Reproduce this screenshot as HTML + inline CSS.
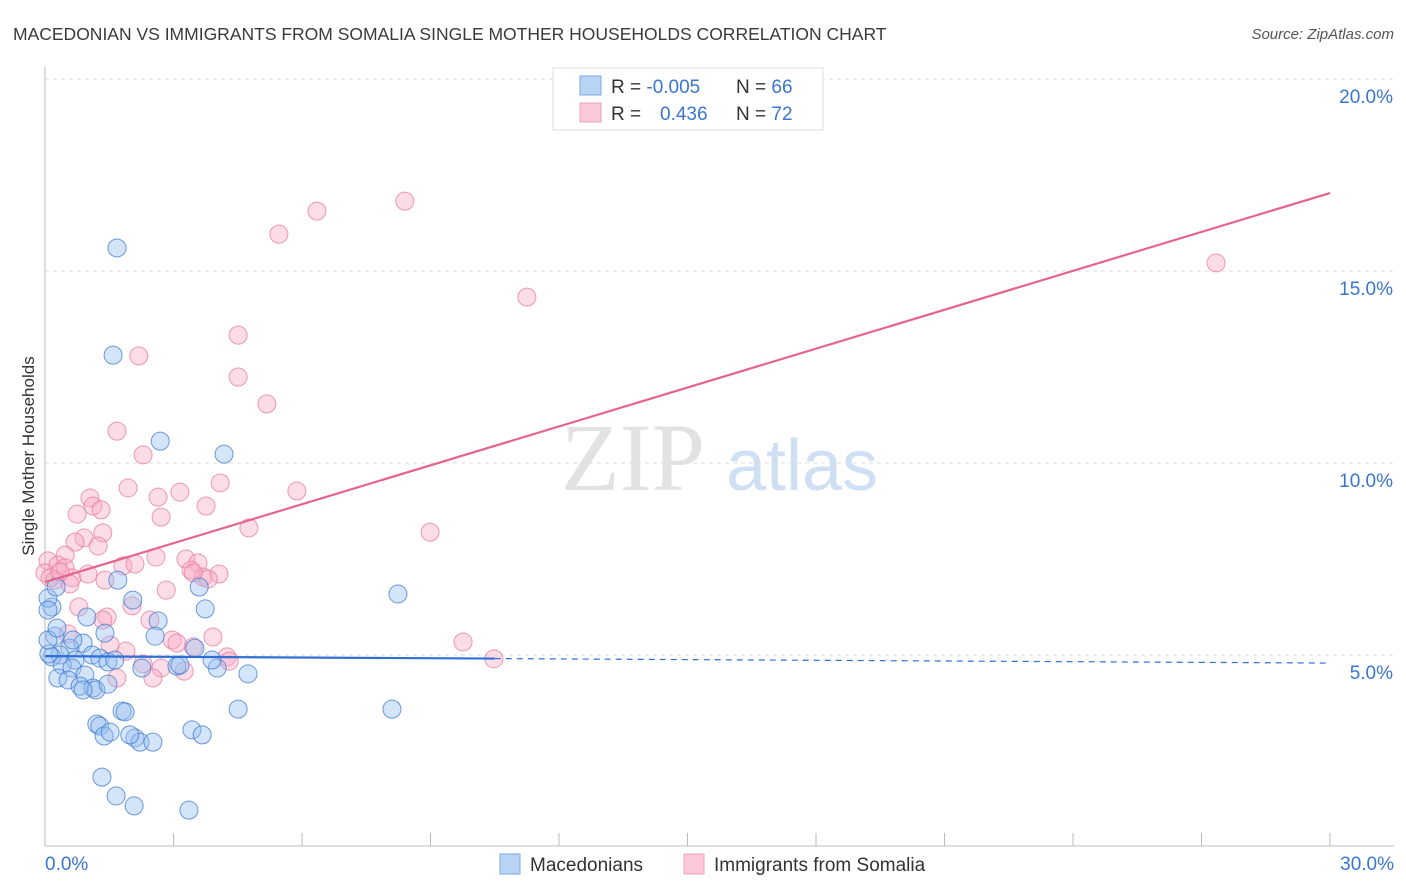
<!DOCTYPE html>
<html><head><meta charset="utf-8"><style>
body{margin:0;background:#fff;font-family:"Liberation Sans",sans-serif;}
svg{display:block}
</style></head><body>
<svg id="chart" width="1406" height="892" xmlns="http://www.w3.org/2000/svg" font-family="Liberation Sans, sans-serif">
<text x="13" y="40" font-size="17.5" fill="#3a3a3a">MACEDONIAN VS IMMIGRANTS FROM SOMALIA SINGLE MOTHER HOUSEHOLDS CORRELATION CHART</text>
<text x="1394" y="39" font-size="15" fill="#555" text-anchor="end" font-style="italic">Source: ZipAtlas.com</text>
<text transform="translate(34,456) rotate(-90)" font-size="17" fill="#333" text-anchor="middle">Single Mother Households</text>
<g>
<text x="633" y="490" font-size="96" fill="#e2e2e2" text-anchor="middle" font-family="Liberation Serif, serif">ZIP</text>
<text x="802" y="490" font-size="72" fill="#cfe0f5" text-anchor="middle">atlas</text>
</g>
<g id="grid"></g><g id="ticks"></g><g id="pts"></g><g id="lines"></g>
<g>
<rect x="553" y="68" width="270" height="62" fill="#fff" stroke="#ddd"/>
<rect x="580" y="76" width="21" height="19" fill="#b9d3f5" stroke="#7fa9e6"/>
<rect x="580" y="103" width="21" height="19" fill="#fac8d8" stroke="#eea0ba"/>
<text x="611" y="93" font-size="19" fill="#333">R = <tspan fill="#3a75d0">-0.005</tspan><tspan x="736">N = </tspan><tspan fill="#3a75d0">66</tspan></text>
<text x="611" y="120" font-size="19" fill="#333">R = <tspan x="660" fill="#3a75d0">0.436</tspan><tspan x="736">N = </tspan><tspan fill="#3a75d0">72</tspan></text>
</g>
<g>
<rect x="500" y="854" width="20" height="20" fill="#b9d3f5" stroke="#7fa9e6"/>
<text x="530" y="871" font-size="19" fill="#333">Macedonians</text>
<rect x="684" y="854" width="20" height="20" fill="#fac8d8" stroke="#eea0ba"/>
<text x="714" y="871" font-size="19" fill="#333">Immigrants from Somalia</text>
</g>
</svg>
<script>
const yTicks=[5,10,15,20];
const yTickLabels=["5.0%","10.0%","15.0%","20.0%"];
const xTickLabels=["0.0%","30.0%"];
const blueX=[1.68,1.59,2.69,4.18,8.24,1.70,3.60,3.74,2.05,2.64,0.98,0.16,0.07,0.26,0.23,1.40,2.57,3.50,0.89,0.58,0.35,0.16,0.70,1.10,1.28,1.47,0.40,0.63,2.26,3.08,4.02,4.74,0.93,0.30,0.54,0.82,1.12,1.19,0.89,1.80,1.87,1.21,1.28,1.38,1.52,2.10,2.22,2.52,3.43,3.67,4.51,8.10,1.33,1.66,2.08,3.36,0.09,0.07,0.28,0.65,1.47,1.63,3.90,3.15,1.98,0.07];
const blueY=[15.60,12.81,10.57,10.23,6.59,6.95,6.77,6.20,6.43,5.89,5.99,6.25,6.48,6.77,5.49,5.57,5.49,5.18,5.31,5.18,5.00,4.95,4.87,5.00,4.92,4.82,4.74,4.66,4.66,4.71,4.66,4.51,4.48,4.40,4.35,4.19,4.14,4.09,4.09,3.54,3.52,3.20,3.15,2.89,2.99,2.84,2.73,2.73,3.05,2.92,3.59,3.59,1.82,1.33,1.07,0.96,5.03,5.39,5.70,5.39,4.24,4.87,4.87,4.74,2.92,6.17];
const pinkX=[6.35,8.40,5.46,11.25,27.34,4.51,2.19,4.51,5.18,1.68,2.29,1.94,3.15,2.64,1.05,4.09,5.88,1.12,1.31,0.75,3.76,2.71,4.76,8.99,1.35,0.91,0.70,1.24,0.47,2.59,3.29,1.82,2.10,3.57,0.07,0.30,0.47,0.00,0.23,0.63,1.40,3.41,4.06,3.69,3.81,0.58,3.46,0.79,2.83,1.45,2.45,1.35,2.03,0.54,2.97,3.92,3.08,9.76,1.89,3.46,1.52,10.48,4.25,2.29,2.71,3.25,1.68,2.52,4.30,0.12,0.35,1.00];
const pinkY=[16.56,16.82,15.96,14.32,15.21,13.33,12.79,12.24,11.54,10.83,10.21,9.35,9.24,9.11,9.09,9.48,9.27,8.88,8.78,8.67,8.88,8.59,8.31,8.20,8.18,8.05,7.94,7.84,7.60,7.55,7.50,7.32,7.37,7.40,7.45,7.34,7.27,7.14,6.95,7.01,6.95,7.21,7.11,7.03,6.98,6.85,7.14,6.25,6.69,5.99,5.91,5.91,6.28,5.55,5.39,5.47,5.31,5.34,5.10,5.21,5.26,4.90,4.95,4.77,4.66,4.58,4.40,4.40,4.84,7.01,7.16,7.11];
const pinkTrend=[6.90,17.03];
const blueTrend=[4.97,4.79];
const ns="http://www.w3.org/2000/svg";
const X=v=>45+v/30*1285, Y=v=>847-v*38.4;
function mk(tag,parent,attrs){const e=document.createElementNS(ns,tag);for(const k in attrs)e.setAttribute(k,attrs[k]);document.getElementById(parent).appendChild(e);return e;}
yTicks.forEach((t,i)=>{
 const l=mk('line','grid',{x1:45,x2:1394,y1:Y(t),y2:Y(t),stroke:'#ddd','stroke-dasharray':'4,4'});
 
 
 const tx=mk('text','grid',{x:1393,y:Y(t)+24,'font-size':19,fill:'#3a75d0','text-anchor':'end'});
 tx.textContent=yTickLabels[i];
 
 
});
const ax=mk('line','ticks',{x1:45,x2:45,y1:67,y2:846,stroke:'#bbb'});


const bx=mk('line','ticks',{x1:45,x2:1394,y1:846,y2:846,stroke:'#bbb'});


for(let i=1;i<=10;i++){
 const t=mk('line','ticks',{x1:X(i*3),x2:X(i*3),y1:833,y2:846,stroke:'#bbb'});
 
 
}
[[0,'start'],[30,'end']].forEach((p,i)=>{
 const t=mk('text','ticks',{x:i?1394:45,y:870,'font-size':19,fill:'#3a75d0','text-anchor':p[1]});
 t.textContent=xTickLabels[i];
 
 
});
pinkX.forEach((v,i)=>{
 const c=mk('circle','pts',{cx:X(v),cy:Y(pinkY[i]),r:9,fill:'rgba(248,170,195,0.4)',stroke:'rgba(232,120,160,0.75)','stroke-width':1});
 
 
});
blueX.forEach((v,i)=>{
 const c=mk('circle','pts',{cx:X(v),cy:Y(blueY[i]),r:9,fill:'rgba(150,190,240,0.4)',stroke:'rgba(60,120,210,0.75)','stroke-width':1});
 
 
});
const pl=mk('line','lines',{x1:X(0),y1:Y(pinkTrend[0]),x2:X(30),y2:Y(pinkTrend[1]),stroke:'#e5648f','stroke-width':2.2});


const bAt=x=>blueTrend[0]+(blueTrend[1]-blueTrend[0])*x/30;
const bl=mk('line','lines',{x1:X(0),y1:Y(bAt(0)),x2:X(10.5),y2:Y(bAt(10.5)),stroke:'#2f6fd6','stroke-width':2.2});


const bd=mk('line','lines',{x1:X(10.5),y1:Y(bAt(10.5)),x2:X(30),y2:Y(bAt(30)),stroke:'#2f6fd6','stroke-width':1.2,'stroke-dasharray':'6,5'});


</script>
</body></html>
